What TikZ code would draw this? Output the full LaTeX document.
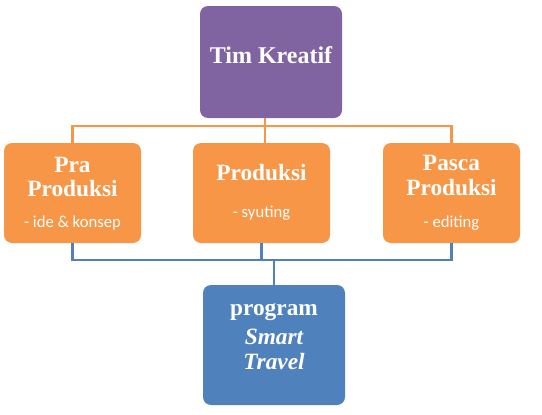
\documentclass[tikz,border=0pt]{standalone}
\usepackage{fontspec}
\setmainfont{Liberation Serif}
\newfontfamily\calfont{Carlito}
\definecolor{tkpurple}{HTML}{8064A2}
\definecolor{tkorange}{HTML}{F79646}
\definecolor{tkblue}{HTML}{4F81BD}
\begin{document}
\begin{tikzpicture}[x=0.75pt,y=-0.75pt,
  box/.style={draw=none,rounded corners=6pt,inner sep=0pt},
  obox/.style={box,fill=tkorange,minimum width=102.75pt,minimum height=75pt},
  title/.style={text=white,font=\fontsize{17.5}{19}\selectfont\bfseries,inner sep=0pt},
  sub/.style={text=white,font=\calfont\fontsize{12.5}{14}\selectfont,inner sep=0pt},
  oline/.style={draw=tkorange,line width=1.6pt},
  bline/.style={draw=tkblue,line width=1.6pt}]
\useasboundingbox (0,0) rectangle (542,414);
% boxes
\node[box,fill=tkpurple,minimum width=106.5pt,minimum height=84pt] (tk) at (271,62) {};
\node[obox] (pra) at (72.5,193) {};
\node[obox] (prod) at (261.5,193) {};
\node[obox] (pasca) at (451.5,193) {};
\node[box,fill=tkblue,minimum width=106.5pt,minimum height=90pt] (prog) at (274,345) {};
% texts
\node[title,font=\fontsize{18}{20}\selectfont\bfseries] (tkt) at (271,55) {Tim Kreatif};
\node[title] (prat1) at (72.5,165) {Pra};
\node[title] (prat2) at (72.5,189) {Produksi};
\node[sub] (pras) at (72.5,223) {- ide \& konsep};
\node[title] (prodt) at (261.5,173) {Produksi};
\node[sub] (prods) at (261.5,213) {- syuting};
\node[title] (pascat1) at (451.5,163) {Pasca};
\node[title] (pascat2) at (451.5,188) {Produksi};
\node[sub] (pascas) at (451.5,223) {- editing};
\node[title] (progt1) at (274,312) {program};
\node[title] (progt2) at (274,337) {\itshape Smart};
\node[title] (progt3) at (274,362) {\itshape Travel};
% connectors
\coordinate (trunk) at (265,0);
\coordinate (bus) at (0,126);
\coordinate (bus2) at (0,260);
\draw[oline] (tk.south -| trunk) -- (prod.north -| trunk);
\draw[oline] (pra.north) -- (pra.north |- bus) -- (pasca.north |- bus) -- (pasca.north);
\draw[bline] (pra.south) -- (pra.south |- bus2) -- (pasca.south |- bus2) -- (pasca.south);
\draw[bline] (prod.south) -- (prod.south |- bus2);
\draw[bline] (prog.north |- bus2) -- (prog.north);
\end{tikzpicture}
\end{document}
